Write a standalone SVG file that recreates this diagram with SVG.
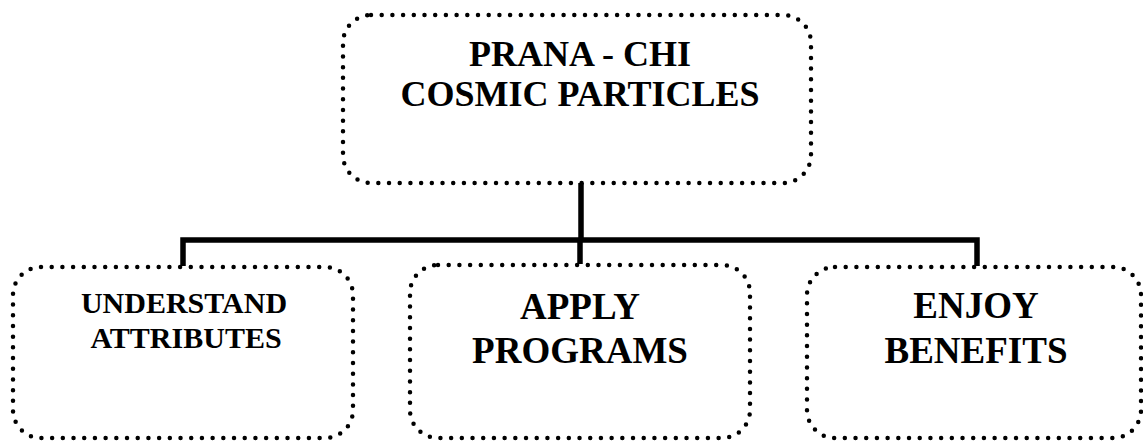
<svg xmlns="http://www.w3.org/2000/svg" width="1143" height="441" viewBox="0 0 1143 441">
<style>
.box{fill:none;stroke:#000;stroke-width:4.5;stroke-linecap:round;stroke-dasharray:0 10.7}
.lbl{font-family:"Liberation Serif","Times New Roman",serif;font-weight:bold;fill:#000;text-anchor:middle}
.conn{fill:none;stroke:#000;stroke-width:5.5}
</style>
<rect width="1143" height="441" fill="#fff"/>
<g id="connectors">
<path class="conn" d="M581 183 V240 M183 266 V240 H977 V266 M580 240 V264"/>
</g>
<g id="node-top">
<rect class="box" x="343" y="15" width="468" height="168" rx="28"/>
<text class="lbl" x="580" y="66" font-size="36">PRANA - CHI</text>
<text class="lbl" x="580" y="106" font-size="36">COSMIC PARTICLES</text>
</g>
<g id="node-understand">
<rect class="box" x="13" y="267" width="340" height="171" rx="28"/>
<text class="lbl" x="184" y="313" font-size="30">UNDERSTAND</text>
<text class="lbl" x="186" y="348" font-size="30">ATTRIBUTES</text>
</g>
<g id="node-apply">
<rect class="box" x="410" y="265" width="340" height="173" rx="28"/>
<text class="lbl" x="580" y="319" font-size="37">APPLY</text>
<text class="lbl" x="580" y="363" font-size="37">PROGRAMS</text>
</g>
<g id="node-enjoy">
<rect class="box" x="807" y="267" width="334" height="171" rx="28"/>
<text class="lbl" x="976" y="318" font-size="37">ENJOY</text>
<text class="lbl" x="976" y="363" font-size="37">BENEFITS</text>
</g>
</svg>
